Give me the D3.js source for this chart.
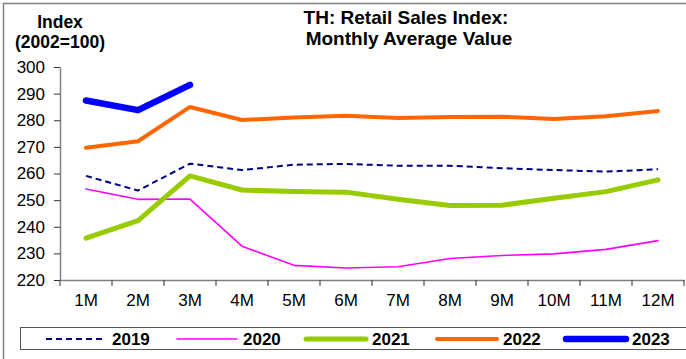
<!DOCTYPE html>
<html>
<head>
<meta charset="utf-8">
<script src="https://cdn.jsdelivr.net/npm/d3@7"></script>
<style>
  html, body { margin: 0; padding: 0; background: #fff; }
  svg { display: block; font-family: "Liberation Sans", Arial, sans-serif; }
</style>
</head>
<body>
<svg id="chart" width="686" height="359"></svg>
<script>
// Months on the category axis
const months = ["1M", "2M", "3M", "4M", "5M", "6M", "7M", "8M", "9M", "10M", "11M", "12M"];
// Y-axis tick values
const yTicks = [220, 230, 240, 250, 260, 270, 280, 290, 300];

// Retail sales index, monthly average value (2002=100)
const v2019 = [259.1, 253.6, 263.7, 261.3, 263.3, 263.6, 262.9, 262.9, 262.0, 261.3, 260.7, 261.6];
const v2020 = [254.2, 250.3, 250.4, 232.7, 225.5, 224.5, 225.0, 228.1, 229.2, 229.8, 231.5, 234.8];
const v2021 = [235.7, 242.3, 259.1, 253.8, 253.2, 253.0, 250.3, 248.0, 248.1, 250.7, 253.2, 257.6];
const v2022 = [269.7, 272.1, 285.0, 280.1, 281.0, 281.7, 280.8, 281.2, 281.3, 280.5, 281.5, 283.5];
const v2023 = [287.4, 283.8, 293.3];

const seriesNames = ["2019", "2020", "2021", "2022", "2023"];
const seriesValues = [v2019, v2020, v2021, v2022, v2023];

const styles = {
  "2019": { color: "#000080", width: 2, dash: "6,4" },
  "2020": { color: "#FF00FF", width: 1.6, dash: null },
  "2021": { color: "#99CC00", width: 5, dash: null },
  "2022": { color: "#FF6600", width: 4, dash: null },
  "2023": { color: "#0000FF", width: 6.5, dash: null }
};

const svg = d3.select("#chart");

// outer frame (top and left edges)
svg.append("path")
  .attr("d", "M3.5,359 V3.5 H686")
  .attr("fill", "none")
  .attr("stroke", "#808080")
  .attr("stroke-width", 1.5);

const x = d3.scaleBand().domain(months).range([60, 684]);
const y = d3.scaleLinear().domain([220, 300]).range([280, 67]);
const cx = m => x(m) + x.bandwidth() / 2;

// Y axis
const yAxis = svg.append("g")
  .attr("transform", "translate(60,0)")
  .call(d3.axisLeft(y).tickValues(yTicks).tickSize(6).tickPadding(9).tickSizeOuter(0));
yAxis.select(".domain").attr("stroke", "#808080").attr("stroke-width", 1.5);
yAxis.selectAll(".tick line").attr("stroke", "#333");
yAxis.selectAll("text").attr("font-size", 17).attr("fill", "#000")
  .attr("font-family", "Liberation Sans, Arial, sans-serif");

// X axis: labels centred in each band, ticks on band boundaries
const xAxis = svg.append("g")
  .attr("transform", "translate(0,280)")
  .call(d3.axisBottom(x).tickSize(0).tickPadding(14));
xAxis.select(".domain").attr("stroke", "#808080").attr("stroke-width", 1.5);
xAxis.selectAll("text").attr("font-size", 17).attr("fill", "#000")
  .attr("font-family", "Liberation Sans, Arial, sans-serif");
const boundaries = months.map(m => x(m)).concat([x.range()[1]]);
xAxis.selectAll("line.bound")
  .data(boundaries)
  .join("line")
  .attr("class", "bound")
  .attr("x1", d => d).attr("x2", d => d)
  .attr("y1", 0).attr("y2", 6)
  .attr("stroke", "#333");

// Series lines
const line = d3.line()
  .x((d, i) => cx(months[i]))
  .y(d => y(d));

seriesNames.forEach((name, k) => {
  const s = styles[name];
  svg.append("path")
    .datum(seriesValues[k])
    .attr("d", line)
    .attr("fill", "none")
    .attr("stroke", s.color)
    .attr("stroke-width", s.width)
    .attr("stroke-dasharray", s.dash)
    .attr("stroke-linejoin", "round")
    .attr("stroke-linecap", s.dash ? "butt" : "round");
});

// Titles
const titleLines = [
  { text: "TH: Retail Sales Index:", x: 406, y: 24 },
  { text: "Monthly Average Value", x: 409, y: 45 }
];
svg.selectAll("text.title")
  .data(titleLines)
  .join("text")
  .attr("class", "title")
  .attr("x", d => d.x).attr("y", d => d.y)
  .attr("text-anchor", "middle")
  .attr("font-weight", "bold")
  .attr("font-size", 19)
  .attr("fill", "#000")
  .text(d => d.text);

const yTitleLines = [
  { text: "Index", y: 28 },
  { text: "(2002=100)", y: 48 }
];
svg.selectAll("text.ytitle")
  .data(yTitleLines)
  .join("text")
  .attr("class", "ytitle")
  .attr("x", 60).attr("y", d => d.y)
  .attr("text-anchor", "middle")
  .attr("font-weight", "bold")
  .attr("font-size", 17.5)
  .attr("fill", "#000")
  .text(d => d.text);

// Legend
svg.append("rect")
  .attr("x", 20.5).attr("y", 327.5)
  .attr("width", 680).attr("height", 22)
  .attr("fill", "#fff")
  .attr("stroke", "#555")
  .attr("stroke-width", 1);

const legendX = [46, 177, 306, 437, 566];
const legend = svg.append("g");
seriesNames.forEach((name, k) => {
  const s = styles[name];
  const g = legend.append("g").attr("transform", `translate(${legendX[k]},339)`);
  g.append("line")
    .attr("x1", 0).attr("x2", 60)
    .attr("stroke", s.color)
    .attr("stroke-width", s.width)
    .attr("stroke-dasharray", s.dash)
    .attr("stroke-linecap", s.dash ? "butt" : "round");
  g.append("text")
    .attr("x", 66).attr("y", 6)
    .attr("font-weight", "bold")
    .attr("font-size", 17)
    .attr("fill", "#000")
    .text(name);
});
</script>
</body>
</html>
